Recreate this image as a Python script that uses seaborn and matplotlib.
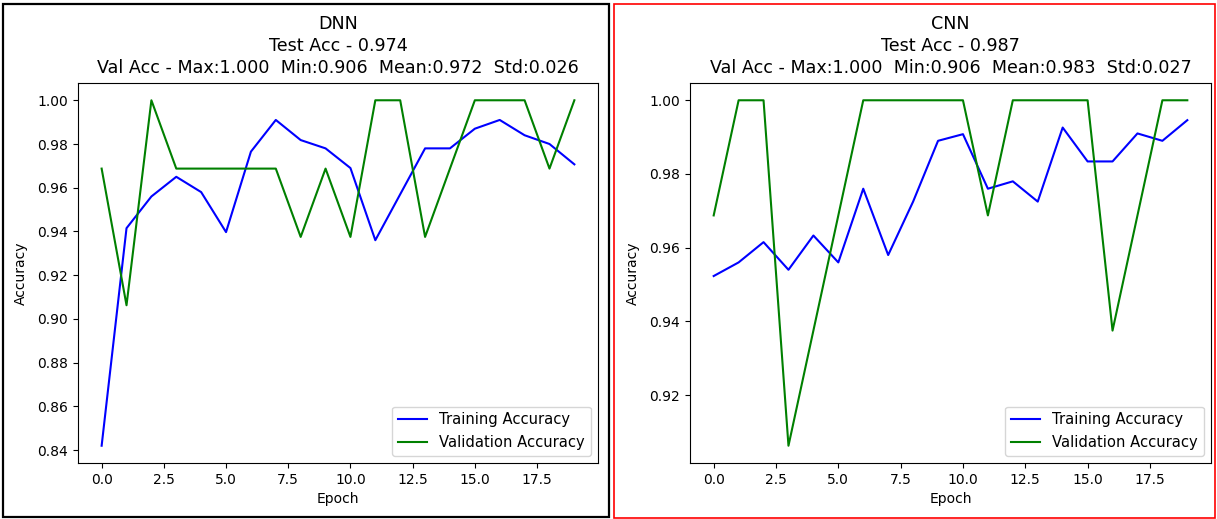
import matplotlib
matplotlib.use("Agg")
import matplotlib.pyplot as plt
import matplotlib.patches as mpatches
import numpy as np
import pandas as pd
import seaborn as sns

epochs = list(range(20))

dnn_train = [0.842, 0.9415, 0.956, 0.965, 0.958, 0.9397, 0.9765, 0.991, 0.9818, 0.978,
             0.969, 0.936, 0.957, 0.978, 0.978, 0.987, 0.991, 0.984, 0.980, 0.9707]
dnn_val = [0.96875, 0.90625, 1.0, 0.96875, 0.96875, 0.96875, 0.96875, 0.96875, 0.9375, 0.96875,
           0.9375, 1.0, 1.0, 0.9375, 0.96875, 1.0, 1.0, 1.0, 0.96875, 1.0]

cnn_train = [0.9523, 0.956, 0.9615, 0.954, 0.9633, 0.956, 0.976, 0.958, 0.9725, 0.989,
             0.9908, 0.976, 0.978, 0.9725, 0.9926, 0.9834, 0.9834, 0.991, 0.989, 0.9946]
cnn_val = [0.96875, 1.0, 1.0, 0.90625, 0.9375, 0.96875, 1.0, 1.0, 1.0, 1.0,
           1.0, 0.96875, 1.0, 1.0, 1.0, 1.0, 0.9375, 0.96875, 1.0, 1.0]

titles = [
    "DNN\nTest Acc - 0.974\nVal Acc - Max:1.000  Min:0.906  Mean:0.972  Std:0.026",
    "CNN\nTest Acc - 0.987\nVal Acc - Max:1.000  Min:0.906  Mean:0.983  Std:0.027",
]

W, H = 1217, 519
fig = plt.figure(figsize=(W / 100, H / 100), dpi=100)

ax_rects = [
    (78 / W, (H - 463) / H, 520 / W, 380 / H),
    (690 / W, (H - 463) / H, 521 / W, 380 / H),
]

series = [(dnn_train, dnn_val), (cnn_train, cnn_val)]

for rect, (tr, va), title in zip(ax_rects, series, titles):
    ax = fig.add_axes(rect)
    df = pd.DataFrame({"Epoch": epochs, "train": tr, "val": va})
    sns.lineplot(data=df, x="Epoch", y="train", color="blue", linewidth=1.5,
                 label="Training Accuracy", ax=ax)
    sns.lineplot(data=df, x="Epoch", y="val", color="green", linewidth=1.5,
                 label="Validation Accuracy", ax=ax)
    ax.set_title(title, fontsize=12.6, linespacing=1.28, pad=7.5)
    ax.set_xlabel("Epoch")
    ax.set_ylabel("Accuracy", labelpad=7)
    ax.legend(loc="lower right", fontsize=10.6)

# panel frames
fig.patches.append(mpatches.Rectangle((3 / W, (H - 517) / H), 606 / W, 513 / H,
                                      transform=fig.transFigure, fill=False,
                                      edgecolor="black", linewidth=1.6))
fig.patches.append(mpatches.Rectangle((614 / W, (H - 518) / H), 601 / W, 514 / H,
                                      transform=fig.transFigure, fill=False,
                                      edgecolor="red", linewidth=1.2))

fig.savefig("out.png", dpi=100)
